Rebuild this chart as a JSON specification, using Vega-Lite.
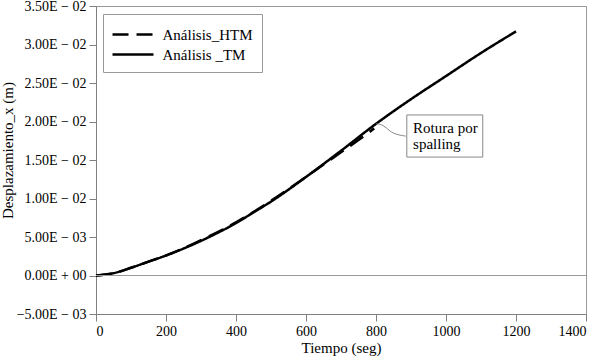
{
  "$schema": "https://vega.github.io/schema/vega-lite/v6.json",
  "width": 490,
  "height": 308,
  "autosize": {"type": "none"},
  "padding": {"left": 96, "top": 6, "right": 14, "bottom": 43},
  "background": "white",
  "config": {
    "view": {"stroke": "#999999", "strokeWidth": 1},
    "font": "Liberation Serif",
    "axis": {
      "labelFont": "Liberation Serif",
      "labelFontSize": 14,
      "labelColor": "black",
      "titleFont": "Liberation Serif",
      "titleFontSize": 15,
      "titleFontWeight": "normal",
      "titleColor": "black",
      "domainColor": "#808080",
      "tickColor": "#808080",
      "tickSize": 7,
      "labelPadding": 3,
      "labelOverlap": false,
      "grid": false
    }
  },
  "datasets": {
    "curves": [
      {"serie": "Análisis _TM", "t": 0, "d": 0},
      {"serie": "Análisis _TM", "t": 50, "d": 0.0003},
      {"serie": "Análisis _TM", "t": 100, "d": 0.0010},
      {"serie": "Análisis _TM", "t": 150, "d": 0.0018},
      {"serie": "Análisis _TM", "t": 200, "d": 0.0026},
      {"serie": "Análisis _TM", "t": 250, "d": 0.0035},
      {"serie": "Análisis _TM", "t": 300, "d": 0.0045},
      {"serie": "Análisis _TM", "t": 350, "d": 0.0056},
      {"serie": "Análisis _TM", "t": 400, "d": 0.0068},
      {"serie": "Análisis _TM", "t": 450, "d": 0.0082},
      {"serie": "Análisis _TM", "t": 500, "d": 0.0096},
      {"serie": "Análisis _TM", "t": 600, "d": 0.0128},
      {"serie": "Análisis _TM", "t": 700, "d": 0.0162},
      {"serie": "Análisis _TM", "t": 800, "d": 0.0197},
      {"serie": "Análisis _TM", "t": 900, "d": 0.0229},
      {"serie": "Análisis _TM", "t": 1000, "d": 0.0259},
      {"serie": "Análisis _TM", "t": 1100, "d": 0.0289},
      {"serie": "Análisis _TM", "t": 1200, "d": 0.0317},
      {"serie": "Análisis_HTM", "t": 0, "d": 0},
      {"serie": "Análisis_HTM", "t": 50, "d": 0.0003},
      {"serie": "Análisis_HTM", "t": 100, "d": 0.0010},
      {"serie": "Análisis_HTM", "t": 150, "d": 0.0018},
      {"serie": "Análisis_HTM", "t": 200, "d": 0.0026},
      {"serie": "Análisis_HTM", "t": 300, "d": 0.0046},
      {"serie": "Análisis_HTM", "t": 400, "d": 0.0069},
      {"serie": "Análisis_HTM", "t": 500, "d": 0.0097},
      {"serie": "Análisis_HTM", "t": 600, "d": 0.0128},
      {"serie": "Análisis_HTM", "t": 700, "d": 0.0160},
      {"serie": "Análisis_HTM", "t": 750, "d": 0.0176},
      {"serie": "Análisis_HTM", "t": 795, "d": 0.0191}
    ],
    "leader": [
      {"t": 801, "d": 0.0197},
      {"t": 820, "d": 0.0196},
      {"t": 840, "d": 0.0187},
      {"t": 858, "d": 0.0183},
      {"t": 885, "d": 0.0181}
    ],
    "box": [{"t": 888, "t2": 1105, "d": 0.02085, "d2": 0.01538}],
    "note": [
      {"t": 906, "d": 0.01854, "label": "Rotura por"},
      {"t": 906, "d": 0.01640, "label": "spalling"}
    ],
    "zero": [{"d": 0}]
  },
  "layer": [
    {
      "data": {"name": "curves"},
      "mark": {"type": "line", "color": "black", "strokeWidth": 2.5, "interpolate": "monotone"},
      "encoding": {
        "x": {
          "field": "t", "type": "quantitative",
          "scale": {"domain": [0, 1400], "nice": false},
          "axis": {"values": [0, 200, 400, 600, 800, 1000, 1200, 1400], "tickCount": 20, "format": "d", "title": "Tiempo (seg)", "titlePadding": 2}
        },
        "y": {
          "field": "d", "type": "quantitative",
          "scale": {"domain": [-0.005, 0.035], "nice": false, "zero": false},
          "axis": {
            "values": [-0.005, 0, 0.005, 0.01, 0.015, 0.02, 0.025, 0.03, 0.035],
            "tickCount": 20,
            "labelExpr": "replace(replace(format(datum.value, '.2e'), 'e-', 'E − 0'), 'e+', 'E + 0')",
            "labelOverlap": false,
            "title": "Desplazamiento_x (m)",
            "titleX": -89,
            "titleY": 144,
            "titleAngle": -90,
            "titleAlign": "center",
            "titleBaseline": "middle"
          }
        },
        "strokeDash": {
          "field": "serie", "type": "nominal",
          "scale": {"domain": ["Análisis_HTM", "Análisis _TM"], "range": [[16, 8], [1, 0]]},
          "legend": {
            "title": null,
            "orient": "none",
            "legendX": 7,
            "legendY": 8,
            "fillColor": "white",
            "strokeColor": "#999999",
            "padding": 9,
            "symbolOffset": 9.5,
            "symbolType": "M-2.05,0H2.05",
            "symbolSize": 400,
            "symbolStrokeWidth": 2.5,
            "symbolStrokeColor": "black",
            "symbolFillColor": "transparent",
            "labelFont": "Liberation Serif",
            "labelFontSize": 15,
            "labelColor": "black",
            "rowPadding": -1,
            "labelOffset": 18
          }
        },
        "detail": {"field": "serie"}
      }
    },
    {
      "data": {"name": "zero"},
      "mark": {"type": "rule", "color": "#999999", "strokeWidth": 1},
      "encoding": {
        "y": {"field": "d", "type": "quantitative"}
      }
    },
    {
      "data": {"name": "leader"},
      "mark": {"type": "line", "color": "#888888", "strokeWidth": 1, "interpolate": "basis"},
      "encoding": {
        "x": {"field": "t", "type": "quantitative"},
        "y": {"field": "d", "type": "quantitative"}
      }
    },
    {
      "data": {"name": "box"},
      "mark": {"type": "rect", "fill": "white", "stroke": "#888888", "strokeWidth": 1},
      "encoding": {
        "x": {"field": "t", "type": "quantitative"},
        "x2": {"field": "t2"},
        "y": {"field": "d", "type": "quantitative"},
        "y2": {"field": "d2"}
      }
    },
    {
      "data": {"name": "note"},
      "mark": {"type": "text", "align": "left", "baseline": "alphabetic", "font": "Liberation Serif", "fontSize": 15, "color": "black"},
      "encoding": {
        "x": {"field": "t", "type": "quantitative"},
        "y": {"field": "d", "type": "quantitative"},
        "text": {"field": "label"}
      }
    }
  ]
}
